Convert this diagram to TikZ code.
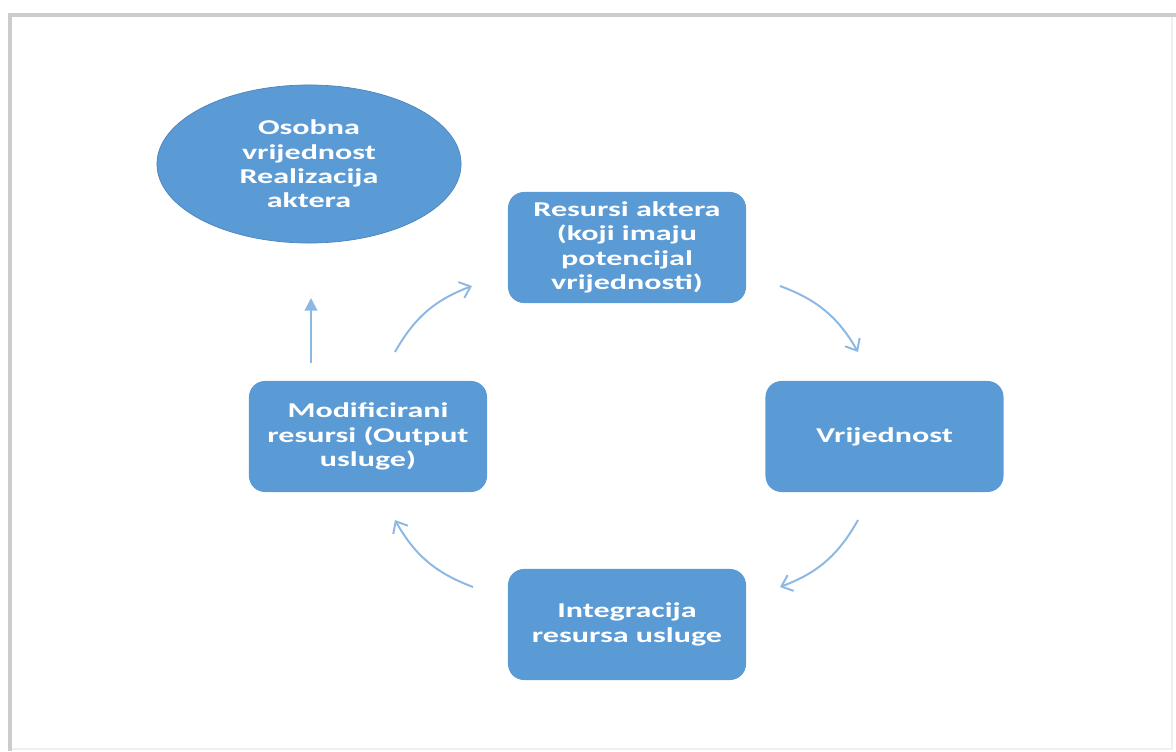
\documentclass[tikz,border=0pt]{standalone}
\usepackage{fontspec}
\newfontfamily\boxfont{Carlito}[FakeStretch=1.52]
\usetikzlibrary{arrows.meta,shapes.geometric}
\definecolor{boxblue}{HTML}{5B9BD5}
\definecolor{edgeblue}{HTML}{4A84BE}
\definecolor{arrowblue}{HTML}{8DB8E4}

\begin{document}
\begin{tikzpicture}[x=0.025cm,y=0.025cm,
  step box/.style={rectangle,rounded corners=0.4cm,fill=boxblue,
    minimum width=5.95cm,minimum height=2.775cm,inner sep=2pt,
    text=white,align=center,font=\boxfont\bfseries\fontsize{15}{17.3}\selectfont},
  goal/.style={ellipse,fill=boxblue,draw=edgeblue,line width=0.5pt,
    minimum width=7.6cm,minimum height=3.95cm,inner sep=0pt,
    text=white,align=center,font=\boxfont\bfseries\fontsize{15}{17.3}\selectfont},
  cycle arrow/.style={draw=arrowblue,line width=1.4pt,bend left=20,
    -{Straight Barb[length=7pt,width=12pt,line width=1.4pt]}},
  up arrow/.style={draw=arrowblue,line width=1.4pt,
    -{Triangle[length=9pt,width=9pt]}}]
  \useasboundingbox (0,0) rectangle (1176,751);
  % page frame
  \draw[gray!12,line width=1pt] (1172,736) -- (1172,2) -- (10,2);
  \draw[gray!40,line width=2.2pt] (10,0) -- (10,736) -- (1176,736);

  % nodes
  \node[goal] (osobna) at (309,587) {Osobna\\vrijednost\\Realizacija\\aktera};
  \node[step box] (resursi) at (627,503.5) {Resursi aktera\\(koji imaju\\potencijal\\vrijednosti)};
  \node[step box] (vrijednost) at (884.5,314.5) {Vrijednost};
  \node[step box] (integracija) at (627,126.5) {Integracija\\resursa usluge};
  \node[step box] (modificirani) at (368,314.5) {Modificirani\\resursi (Output\\usluge)};

  % free arrow ends
  \coordinate (a1s) at (395,399); \coordinate (a1e) at (472,465);
  \coordinate (a2s) at (780,465); \coordinate (a2e) at (858,399);
  \coordinate (a3s) at (858,231); \coordinate (a3e) at (780,164);
  \coordinate (a4s) at (473,164); \coordinate (a4e) at (395,231);
  \coordinate (ups) at (311,388); \coordinate (upe) at (311,453);

  % arrows
  \draw[cycle arrow] (a1s) to (a1e);
  \draw[cycle arrow] (a2s) to (a2e);
  \draw[cycle arrow] (a3s) to (a3e);
  \draw[cycle arrow] (a4s) to (a4e);
  \draw[up arrow] (ups) -- (upe);
\end{tikzpicture}
\end{document}
